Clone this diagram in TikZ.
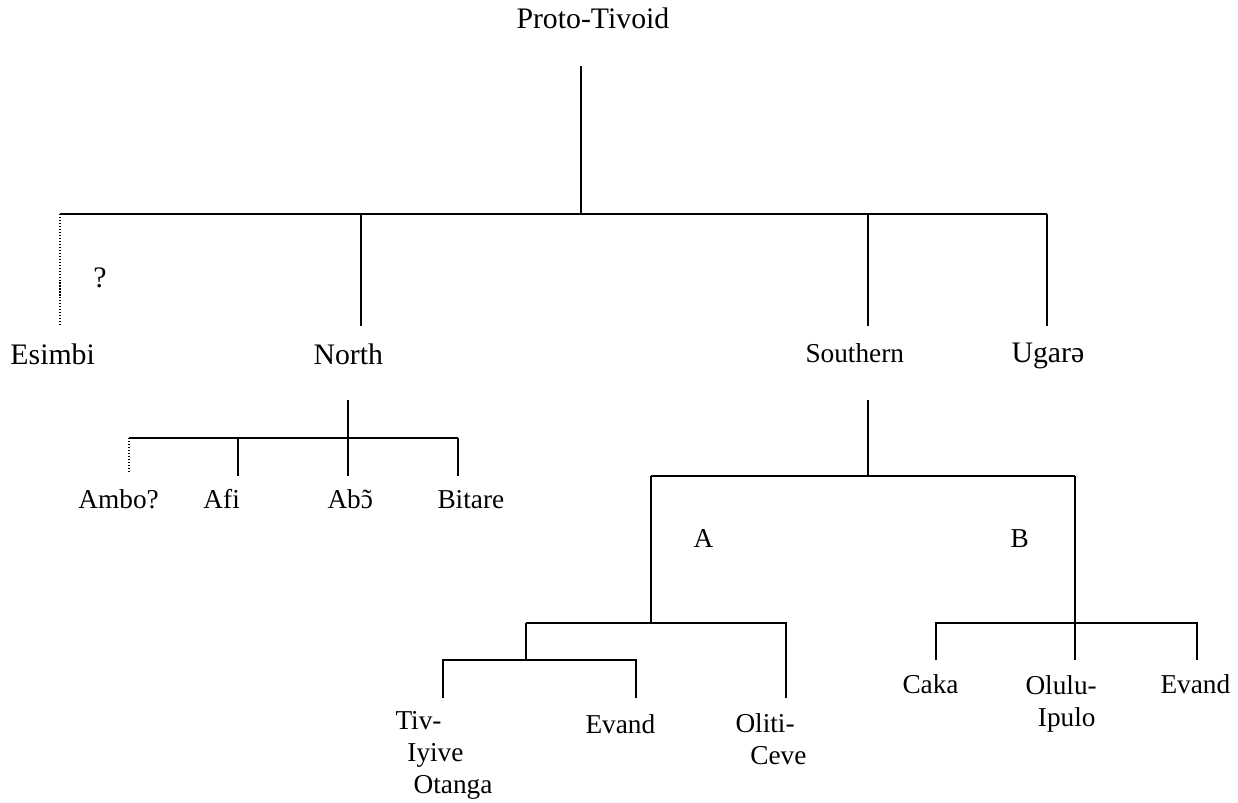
\documentclass[tikz,border=0pt]{standalone}
\usepackage{fontspec}
\setmainfont{Liberation Serif}
\usetikzlibrary{calc}

\tikzset{
  lbl/.style={anchor=base west, inner sep=0pt, font=\fontsize{11}{12.8}\selectfont, align=left},
  toplbl/.style={lbl, font=\fontsize{12}{14}\selectfont},
  branch/.style={line width=0.6pt},
  unsure/.style={line width=0.45pt, dash pattern=on 0.45pt off 0.75pt}
}

\begin{document}
\begin{tikzpicture}[x=0.403pt, y=-0.403pt]
\useasboundingbox (0,0) rectangle (1238,802);

% labels (multi-line ones sit on their last line)
\node[toplbl] (proto) at (516,28) {Proto-Tivoid};
\node[toplbl] (esimbi) at (10,364) {Esimbi};
\node[toplbl] (qmark) at (93,287) {?};
\node[toplbl] (north) at (313,364) {North};
\node[lbl] (southern) at (805,362) {Southern};
\node[toplbl] (ugare) at (1011,362) {Ugarə};

\node[lbl] (ambo) at (78,508) {Ambo?};
\node[lbl] (afi) at (203,508) {Afi};
\node[lbl] (abo) at (327,508) {Ab\ooalign{ɔ\cr\hidewidth˜\hidewidth\cr}};
\node[lbl] (bitare) at (437,508) {Bitare};

\node[lbl] (grpA) at (693,547) {A};
\node[lbl] (grpB) at (1010,547) {B};

\node[lbl] (tiv) at (395,793) {Tiv-\\\hspace*{4.8pt}Iyive\\\hspace*{7.3pt}Otanga};
\node[lbl] (evandA) at (585,733) {Evand};
\node[lbl] (oliti) at (735,764) {Oliti-\\\hspace*{6pt}Ceve};

\node[lbl] (caka) at (902,693) {Caka};
\node[lbl] (olulu) at (1025,726) {Olulu-\\\hspace*{5pt}Ipulo};
\node[lbl] (evandB) at (1160,693) {Evand};

% junctions
\coordinate (ptA) at (581,66);
\coordinate (ptB) at (581,214);
\coordinate (esA) at (60,214);   \coordinate (esB) at (60,325);
\coordinate (noA) at (361,214);  \coordinate (noB) at (361,326);
\coordinate (soA) at (868,214);  \coordinate (soB) at (868,326);
\coordinate (ugA) at (1047,214); \coordinate (ugB) at (1047,326);

\coordinate (noC) at (348,400);  \coordinate (noD) at (348,438);
\coordinate (amA) at (129,438);  \coordinate (amB) at (129,473);
\coordinate (afA) at (238,438);  \coordinate (afB) at (238,476);
\coordinate (abB) at (348,476);
\coordinate (biA) at (458,438);  \coordinate (biB) at (458,476);

\coordinate (soC) at (868,400);  \coordinate (soD) at (868,476);
\coordinate (aA) at (651,476);   \coordinate (aB) at (651,623);
\coordinate (bA) at (1075,476);  \coordinate (bB) at (1075,623);
\coordinate (bC) at (1075,660);

\coordinate (tiA) at (526,623);  \coordinate (tiB) at (526,660);
\coordinate (olA) at (786,623);  \coordinate (olB) at (786,698);
\coordinate (tvA) at (443,660);  \coordinate (tvB) at (443,698);
\coordinate (evA) at (636,660);  \coordinate (evB) at (636,698);

\coordinate (caA) at (936,623);  \coordinate (caB) at (936,660);
\coordinate (euA) at (1197,623); \coordinate (euB) at (1197,660);

% top level
\draw[branch] (ptA) -- (ptB);
\draw[branch] (esA) -- (ugA);
\draw[unsure] (esA) -- (esB);
\draw[branch] (noA) -- (noB);
\draw[branch] (soA) -- (soB);
\draw[branch] (ugA) -- (ugB);

% North
\draw[branch] (noC) -- (abB);
\draw[branch] (amA) -- (biA);
\draw[unsure] (amA) -- (amB);
\draw[branch] (afA) -- (afB);
\draw[branch] (biA) -- (biB);

% Southern
\draw[branch] (soC) -- (soD);
\draw[branch] (aA) -- (bA);
\draw[branch] (aA) -- (aB);
\draw[branch] (bA) -- (bC);

% A
\draw[branch] (tiA) -- (olA) -- (olB);
\draw[branch] (tiA) -- (tiB);
\draw[branch] (tvB) -- (tvA) -- (evA) -- (evB);

% B
\draw[branch] (caB) -- (caA) -- (euA) -- (euB);

\end{tikzpicture}
\end{document}
